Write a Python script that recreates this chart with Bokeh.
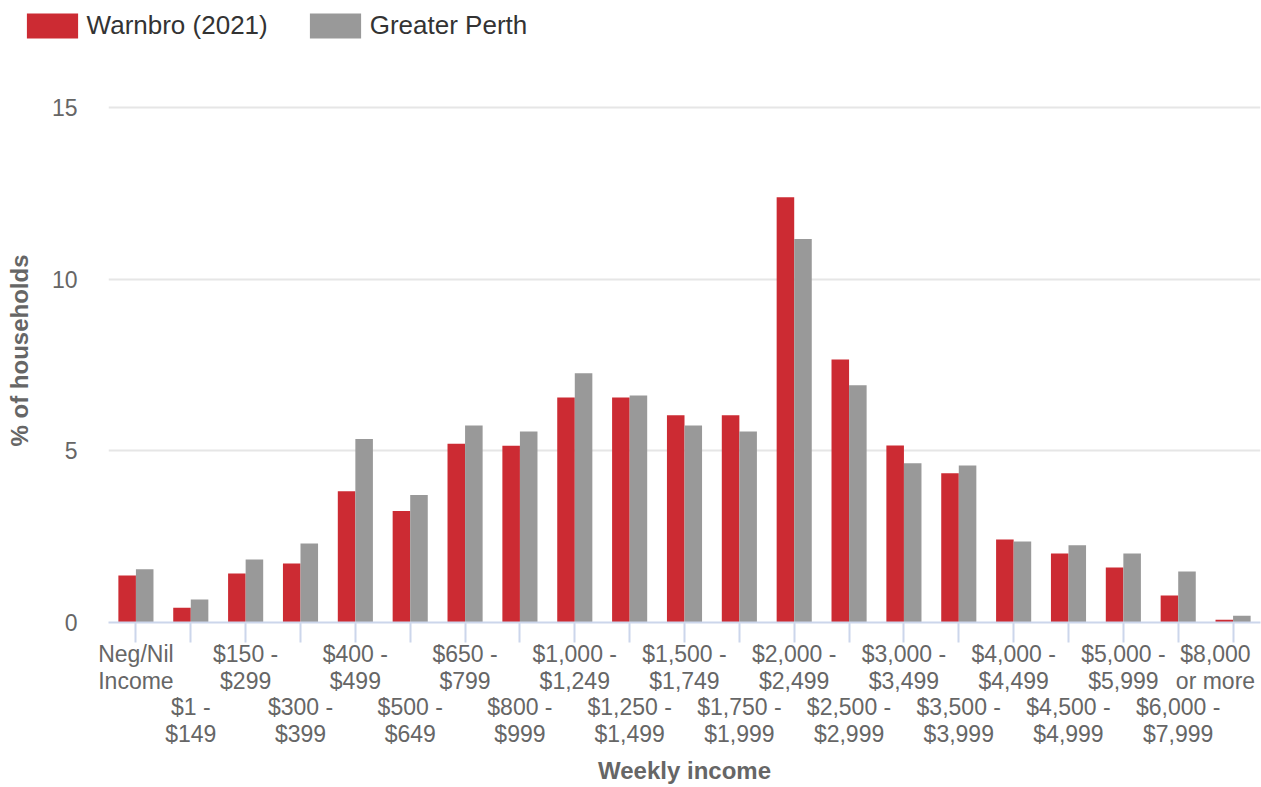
import math
from bokeh.plotting import figure
from bokeh.models import (ColumnDataSource, Range1d, FixedTicker, LinearAxis,
                          Legend, LegendItem)
from bokeh.layouts import column
from bokeh.transform import dodge
from bokeh.embed import file_html
from bokeh.resources import INLINE

# ---------------- data ----------------
categories = ["Neg/Nil Income", "$1 - $149", "$150 - $299", "$300 - $399", "$400 - $499",
              "$500 - $649", "$650 - $799", "$800 - $999", "$1,000 - $1,249", "$1,250 - $1,499",
              "$1,500 - $1,749", "$1,750 - $1,999", "$2,000 - $2,499", "$2,500 - $2,999",
              "$3,000 - $3,499", "$3,500 - $3,999", "$4,000 - $4,499", "$4,500 - $4,999",
              "$5,000 - $5,999", "$6,000 - $7,999", "$8,000 or more"]
label_line1 = ["Neg/Nil", "$1 -", "$150 -", "$300 -", "$400 -", "$500 -", "$650 -", "$800 -",
               "$1,000 -", "$1,250 -", "$1,500 -", "$1,750 -", "$2,000 -", "$2,500 -",
               "$3,000 -", "$3,500 -", "$4,000 -", "$4,500 -", "$5,000 -", "$6,000 -", "$8,000"]
label_line2 = ["Income", "$149", "$299", "$399", "$499", "$649", "$799", "$999", "$1,249",
               "$1,499", "$1,749", "$1,999", "$2,499", "$2,999", "$3,499", "$3,999", "$4,499",
               "$4,999", "$5,999", "$7,999", "or more"]
warnbro = [1.37, 0.43, 1.43, 1.72, 3.83, 3.25, 5.21, 5.15, 6.56, 6.56, 6.04, 6.04, 12.4,
           7.67, 5.16, 4.35, 2.42, 2.01, 1.6, 0.79, 0.08]
perth = [1.55, 0.67, 1.84, 2.3, 5.35, 3.72, 5.74, 5.57, 7.27, 6.62, 5.74, 5.57, 11.18,
         6.92, 4.64, 4.58, 2.36, 2.25, 2.01, 1.49, 0.2]
y_ticks = [0, 5, 10, 15]
series_names = ["Warnbro (2021)", "Greater Perth"]
x_title = "Weekly income"
y_title = "% of households"

FONT = "Liberation Sans"
RED = "#cc2b33"
GREY = "#999999"
LABEL_GREY = "#666666"
AXIS_BLUE = "#ccd6eb"
W = 1261
LEG_H = 52
MAIN_H = 787 - LEG_H

n = len(categories)
xpos = [i + 0.5 for i in range(n)]   # centre of each category slot
src = ColumnDataSource(dict(x=xpos, cat=categories, warnbro=warnbro, perth=perth))

# ---------------- legend strip ----------------
lg = figure(width=W, height=LEG_H, output_backend="svg", toolbar_location=None,
            x_range=Range1d(0, n), y_range=Range1d(1000, 1001), x_axis_type=None,
            y_axis_type=None,
            min_border_left=0, min_border_right=0, min_border_top=0, min_border_bottom=0)
try:
    lg.frame_align = False
except Exception:
    pass
lg.outline_line_color = None
lg.xgrid.grid_line_color = None
lg.ygrid.grid_line_color = None
lr1 = lg.vbar(x="x", top="warnbro", width=0.3, source=src, fill_color=RED, line_color=None)
lr2 = lg.vbar(x="x", top="perth", width=0.3, source=src, fill_color=GREY, line_color=None)
legend = Legend(items=[LegendItem(label=series_names[0], renderers=[lr1]),
                       LegendItem(label=series_names[1], renderers=[lr2])],
                orientation="horizontal", location=(19.6, 11.4),
                glyph_width=64, glyph_height=31, label_standoff=3, spacing=35,
                padding=0, margin=0, border_line_color=None, background_fill_alpha=0,
                label_text_font=FONT, label_text_font_size="26px", label_text_color="#333333")
lg.add_layout(legend)

# ---------------- main chart ----------------
p = figure(x_range=Range1d(0, n), y_range=Range1d(0, 15.86),
           width=W, height=MAIN_H, output_backend="svg", toolbar_location=None,
           min_border_left=108, min_border_right=1, min_border_top=26, min_border_bottom=165)
p.outline_line_color = None
p.background_fill_color = "white"
p.border_fill_color = "white"

p.vbar(x=dodge("x", -0.16), top="warnbro", width=0.32, source=src,
       fill_color=RED, line_color=None)
p.vbar(x=dodge("x", 0.16), top="perth", width=0.32, source=src,
       fill_color=GREY, line_color=None)

# y axis
yax = p.yaxis[0]
yax.ticker = FixedTicker(ticks=y_ticks)
yax.axis_line_color = None
yax.major_tick_line_color = None
yax.minor_tick_line_color = None
yax.major_tick_out = 0
yax.major_tick_in = 0
yax.major_label_standoff = 31
yax.major_label_text_font = FONT
yax.major_label_text_font_size = "23px"
yax.major_label_text_color = LABEL_GREY
yax.axis_label = y_title
yax.axis_label_standoff = 16
yax.axis_label_text_font = FONT
yax.axis_label_text_font_size = "24px"
yax.axis_label_text_font_style = "bold"
yax.axis_label_text_color = LABEL_GREY

p.ygrid.ticker = FixedTicker(ticks=y_ticks)
p.ygrid.grid_line_color = "#e6e6e6"
p.ygrid.grid_line_width = 2
p.xgrid.grid_line_color = None

# x axes: two rows of staggered, two-line labels
pad = "\u00a0"
full_labels = []
for i in range(n):
    a, b = label_line1[i], label_line2[i]
    if i == n - 1:
        a, b = a + pad, b + pad
    full_labels.append(a + "\n" + b)

xa = p.xaxis[0]
xa.ticker = FixedTicker(ticks=xpos)
xa.axis_line_color = AXIS_BLUE
xa.axis_line_width = 2
xa.major_tick_line_color = AXIS_BLUE
xa.major_tick_line_width = 2
xa.major_tick_out = 20
xa.major_tick_in = 0
xa.minor_tick_line_color = None
xa.major_label_standoff = -2
xa.major_label_overrides = {xpos[i]: (full_labels[i] if i % 2 == 0 else " ") for i in range(n)}

odd = [xpos[i] for i in range(n) if i % 2 == 1]
xb = LinearAxis(ticker=FixedTicker(ticks=odd))
xb.axis_line_color = None
xb.major_tick_line_color = None
xb.major_tick_out = 0
xb.major_tick_in = 0
xb.minor_tick_line_color = None
xb.major_label_standoff = -4
xb.major_label_overrides = {xpos[i]: full_labels[i] for i in range(n) if i % 2 == 1}
xb.axis_label = x_title
xb.axis_label_standoff = 7
xb.axis_label_text_font = FONT
xb.axis_label_text_font_size = "24px"
xb.axis_label_text_font_style = "bold"
xb.axis_label_text_color = LABEL_GREY
p.add_layout(xb, "below")

for ax in (xa, xb):
    ax.major_label_text_font = FONT
    ax.major_label_text_font_size = "23px"
    ax.major_label_text_color = LABEL_GREY
    ax.major_label_text_line_height = 1.075
    ax.major_label_orientation = "horizontal"

layout = column(lg, p, spacing=0)
open("out.html", "w").write(file_html(layout, INLINE))
